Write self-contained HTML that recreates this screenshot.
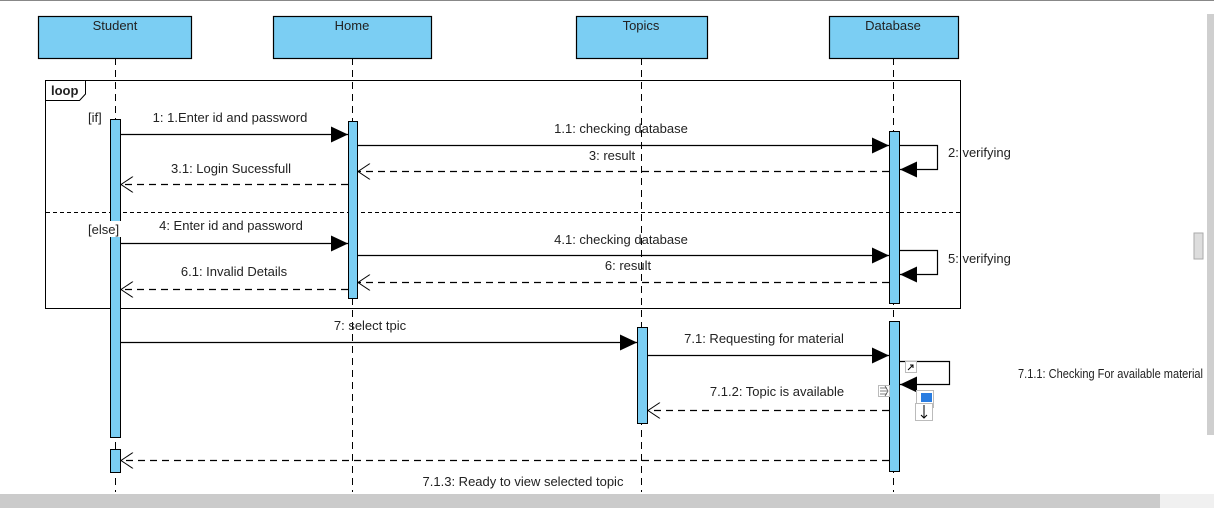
<!DOCTYPE html>
<html><head><meta charset="utf-8"><style>
html,body{margin:0;padding:0;background:#fff;width:1214px;height:508px;overflow:hidden}
svg{display:block}
text{font-family:"Liberation Sans",sans-serif;font-size:13px;fill:#222}
</style></head><body>
<svg width="1214" height="508" viewBox="0 0 1214 508">
<defs>
<marker id="f" markerWidth="18" markerHeight="16" refX="17" refY="8" orient="auto" markerUnits="userSpaceOnUse"><path d="M0,0 L17,8 L0,16 Z" fill="#000"/></marker>
<marker id="o" markerWidth="14" markerHeight="16" refX="13" refY="8" orient="auto" markerUnits="userSpaceOnUse"><path d="M1,0 L13,8 L1,16" fill="none" stroke="#000" stroke-width="1"/></marker>
</defs>
<rect x="0" y="0" width="1214" height="1" fill="#888"/>
<g stroke="#000" stroke-width="1" stroke-dasharray="7,5">
<line x1="115.5" y1="58" x2="115.5" y2="492"/>
<line x1="352.5" y1="58" x2="352.5" y2="492"/>
<line x1="641.5" y1="58" x2="641.5" y2="492"/>
<line x1="893.5" y1="58" x2="893.5" y2="492"/>
</g>
<g fill="#7bcef3" stroke="#000" stroke-width="1.2">
<rect x="38.5" y="16.5" width="153" height="42"/>
<rect x="273.5" y="16.5" width="158" height="42"/>
<rect x="576.5" y="16.5" width="131" height="42"/>
<rect x="829.5" y="16.5" width="129" height="42"/>
</g>
<text x="115" y="30" text-anchor="middle">Student</text>
<text x="352" y="30" text-anchor="middle">Home</text>
<text x="641" y="30" text-anchor="middle">Topics</text>
<text x="893" y="30" text-anchor="middle">Database</text>
<rect x="45.5" y="80.5" width="915" height="228" fill="none" stroke="#000"/>
<path d="M45.5,100.5 L79.5,100.5 L85.5,94 L85.5,80.5" fill="#fff" stroke="#000"/>
<text x="51" y="95" style="font-weight:bold">loop</text>
<line x1="46" y1="212.5" x2="960" y2="212.5" stroke="#000" stroke-dasharray="4,3"/>
<g fill="#7bcef3" stroke="#000" stroke-width="1">
<rect x="110.5" y="119.5" width="10" height="318"/>
<rect x="110.5" y="449.5" width="10" height="23"/>
<rect x="348.5" y="121.5" width="9" height="177"/>
<rect x="889.5" y="131.5" width="10" height="172"/>
<rect x="889.5" y="321.5" width="10" height="150"/>
<rect x="637.5" y="327.5" width="10" height="96"/>
</g>
<rect x="86" y="221" width="36" height="16" fill="#fff"/>
<text x="88" y="122">[if]</text>
<text x="88" y="234">[else]</text>
<g stroke="#000" stroke-width="1.2" fill="none">
<line x1="121" y1="134.5" x2="348" y2="134.5" marker-end="url(#f)"/>
<line x1="358" y1="145.5" x2="889" y2="145.5" marker-end="url(#f)"/>
<polyline points="900,145.5 937.5,145.5 937.5,169.5 900,169.5" marker-end="url(#f)"/>
<line x1="889" y1="171.5" x2="358" y2="171.5" stroke-dasharray="7,5" marker-end="url(#o)"/>
<line x1="348" y1="184.5" x2="121" y2="184.5" stroke-dasharray="7,5" marker-end="url(#o)"/>
<line x1="121" y1="243.5" x2="348" y2="243.5" marker-end="url(#f)"/>
<line x1="358" y1="255.5" x2="889" y2="255.5" marker-end="url(#f)"/>
<polyline points="900,250.5 937.5,250.5 937.5,274.5 900,274.5" marker-end="url(#f)"/>
<line x1="889" y1="282.5" x2="358" y2="282.5" stroke-dasharray="7,5" marker-end="url(#o)"/>
<line x1="348" y1="289.5" x2="121" y2="289.5" stroke-dasharray="7,5" marker-end="url(#o)"/>
<line x1="121" y1="342.5" x2="637" y2="342.5" marker-end="url(#f)"/>
<line x1="648" y1="355.5" x2="889" y2="355.5" marker-end="url(#f)"/>
<polyline points="900,361.5 949.5,361.5 949.5,384.5 900,384.5" marker-end="url(#f)"/>
<line x1="889" y1="410.5" x2="648" y2="410.5" stroke-dasharray="7,5" marker-end="url(#o)"/>
<line x1="889" y1="460.5" x2="121" y2="460.5" stroke-dasharray="7,5" marker-end="url(#o)"/>
</g>
<g text-anchor="middle">
<text x="230" y="122">1: 1.Enter id and password</text>
<text x="621" y="133">1.1: checking database</text>
<text x="612" y="160">3: result</text>
<text x="231" y="173">3.1: Login Sucessfull</text>
<text x="231" y="230">4: Enter id and password</text>
<text x="621" y="244">4.1: checking database</text>
<text x="628" y="270">6: result</text>
<text x="234" y="276">6.1: Invalid Details</text>
<text x="370" y="330">7: select tpic</text>
<text x="764" y="343">7.1: Requesting for material</text>
<text x="777" y="396">7.1.2: Topic is available</text>
<text x="523" y="486">7.1.3: Ready to view selected topic</text>
</g>
<text x="948" y="157">2: verifying</text>
<text x="948" y="263">5: verifying</text>
<text x="1018" y="378" textLength="185" lengthAdjust="spacingAndGlyphs">7.1.1: Checking For available material</text>
<rect x="905.5" y="361.5" width="11" height="11" fill="#fff" stroke="#bbb"/>
<path d="M908,370 L913,365 M910,365 L913,365 L913,368" stroke="#000" fill="none"/>
<rect x="878.5" y="385.5" width="11" height="11" fill="#fff" stroke="#bbb"/>
<path d="M880,388 L887,388 M880,391 L887,391 M880,394 L887,394 M885,386 L888,391 L885,396" stroke="#555" fill="none" stroke-width="0.8"/>
<rect x="916.5" y="390.5" width="17" height="17" fill="#fff" stroke="#bbb"/>
<rect x="921" y="393" width="11" height="9" fill="#2a7de1"/>
<rect x="915.5" y="403.5" width="17" height="17" fill="#fff" stroke="#bbb"/>
<path d="M924,405 L924,418 M921,415 L924,418 L927,415" stroke="#000" fill="none"/>
<rect x="1207" y="14" width="7" height="421" fill="#cfcfcf"/>
<rect x="1194" y="233" width="9" height="26" fill="#ddd" stroke="#aaa"/>
<rect x="0" y="494" width="1160" height="14" fill="#cbcbcb"/>
<rect x="1160" y="494" width="54" height="14" fill="#f0f0f0"/>
</svg>
</body></html>
